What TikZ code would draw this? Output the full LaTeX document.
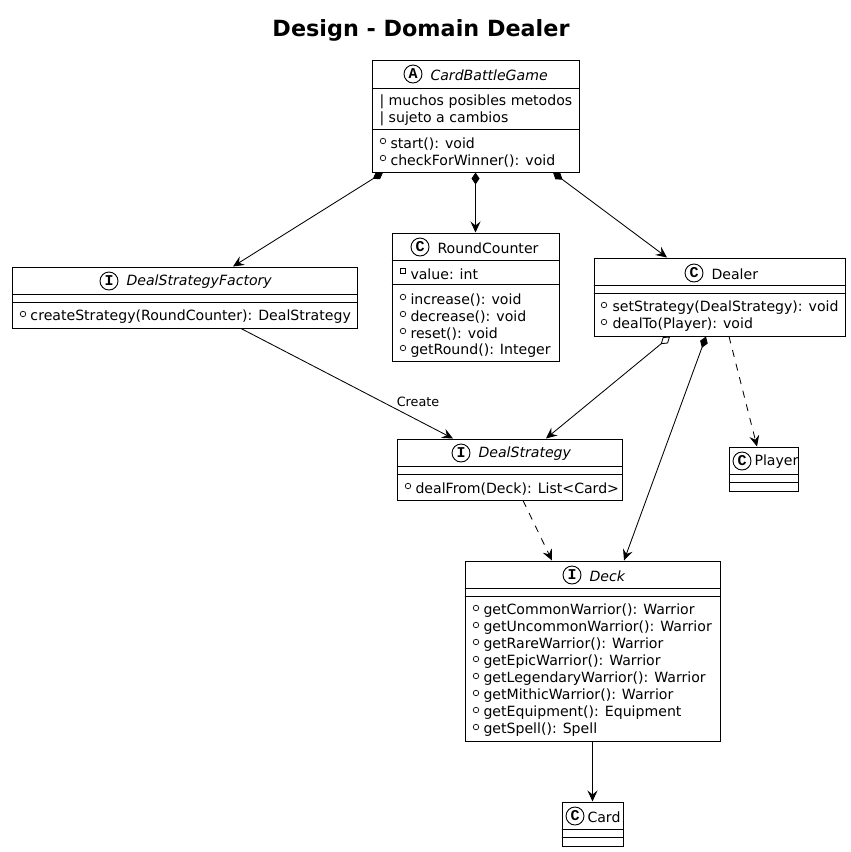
\documentclass[tikz,border=0pt]{standalone}
\usepackage{fontspec}
\setmainfont{DejaVu Sans}
\newfontfamily\badgefont{Liberation Mono}
\usetikzlibrary{arrows.meta}
\newcommand{\umlfont}{\fontsize{14.1}{17}\selectfont}

\begin{document}
\begin{tikzpicture}[x=1pt, y=-1pt, line width=1pt,
    classbox/.style={draw=black, fill=white, inner sep=0pt},
    member/.style={anchor=west, inner sep=0pt, yshift=-1pt, font=\umlfont},
    title/.style={inner sep=0pt, yshift=-1pt, font=\umlfont},
    ititle/.style={inner sep=0pt, yshift=-1pt, font=\umlfont\itshape},
    badge/.style={circle, draw=black, line width=0.9pt, minimum size=18pt, inner sep=0pt, font=\fontsize{15}{15}\badgefont\bfseries},
    pub/.style={circle, draw=black, line width=0.7pt, minimum size=5.5pt, inner sep=0pt},
    priv/.style={rectangle, draw=black, line width=0.7pt, minimum size=5.5pt, inner sep=0pt},
    link/.style={draw=black, line width=0.85pt, -{Stealth[length=11pt, width=10pt, inset=4pt]}},
    dep/.style={link, dash pattern=on 7pt off 7pt},
    comp/.style={link, {Diamond[length=12pt, width=8pt]}-{Stealth[length=11pt, width=10pt, inset=4pt]}},
    agg/.style={link, {Diamond[open, fill=white, length=12pt, width=8pt]}-{Stealth[length=11pt, width=10pt, inset=4pt]}}]
    \useasboundingbox (0,0) rectangle (851,852);

    \node[font=\fontsize{22.3}{25}\selectfont\bfseries, inner sep=0pt] (heading) at (421,30) {Design - Domain Dealer};

    % Abstract class on top
    \node[classbox, minimum width=207pt, minimum height=112pt] (game) at (475.5,116) {};
    \draw ([yshift=-29pt]game.north west) -- ([yshift=-29pt]game.north east);
    \draw ([yshift=-70pt]game.north west) -- ([yshift=-70pt]game.north east);
    \node[badge] (gamebadge) at (413,74) {A};
    \node[ititle, anchor=west] (gametitle) at (430,74) {CardBattleGame};
    \node[member] (gamenote1) at (379,101) {| muchos posibles metodos};
    \node[member] (gamenote2) at (379,118) {| sujeto a cambios};
    \node[pub] (gamepub1) at (383,141) {};
    \node[pub] (gamepub2) at (383,158) {};
    \node[member] (gamem1) at (390,143) {start(): void};
    \node[member] (gamem2) at (390,160) {checkForWinner(): void};

    % Factory
    \node[classbox, minimum width=345pt, minimum height=61pt] (factory) at (184.5,297.5) {};
    \draw ([yshift=-28pt]factory.north west) -- ([yshift=-28pt]factory.north east);
    \draw ([yshift=-36pt]factory.north west) -- ([yshift=-36pt]factory.north east);
    \node[badge] (factorybadge) at (109,281) {I};
    \node[ititle, anchor=west] (factorytitle) at (126,281) {DealStrategyFactory};
    \node[pub] (factorypub1) at (23,314) {};
    \node[member] (factorym1) at (30,316) {createStrategy(RoundCounter): DealStrategy};

    % Round counter
    \node[classbox, minimum width=167pt, minimum height=128pt] (counter) at (475.5,297) {};
    \draw ([yshift=-28pt]counter.north west) -- ([yshift=-28pt]counter.north east);
    \draw ([yshift=-52pt]counter.north west) -- ([yshift=-52pt]counter.north east);
    \node[badge] (counterbadge) at (420,247) {C};
    \node[title, anchor=west] (countertitle) at (437,247) {RoundCounter};
    \node[priv] (counterpriv1) at (403,271) {};
    \node[member] (counterv1) at (410,273) {value: int};
    \node[pub] (counterpub1) at (403,297) {};
    \node[pub] (counterpub2) at (403,314) {};
    \node[pub] (counterpub3) at (403,331) {};
    \node[pub] (counterpub4) at (403,348) {};
    \node[member] (counterm1) at (410,299) {increase(): void};
    \node[member] (counterm2) at (410,316) {decrease(): void};
    \node[member] (counterm3) at (410,333) {reset(): void};
    \node[member] (counterm4) at (410,350) {getRound(): Integer};

    % Dealer
    \node[classbox, minimum width=251pt, minimum height=78pt] (dealer) at (719.5,297) {};
    \draw ([yshift=-28pt]dealer.north west) -- ([yshift=-28pt]dealer.north east);
    \draw ([yshift=-36pt]dealer.north west) -- ([yshift=-36pt]dealer.north east);
    \node[badge] (dealerbadge) at (694,273) {C};
    \node[title, anchor=west] (dealertitle) at (711,273) {Dealer};
    \node[pub] (dealerpub1) at (604,305) {};
    \node[pub] (dealerpub2) at (604,322) {};
    \node[member] (dealerm1) at (612,307) {setStrategy(DealStrategy): void};
    \node[member] (dealerm2) at (612,324) {dealTo(Player): void};

    % Strategy
    \node[classbox, minimum width=225pt, minimum height=61pt] (strategy) at (509.5,469.5) {};
    \draw ([yshift=-28pt]strategy.north west) -- ([yshift=-28pt]strategy.north east);
    \draw ([yshift=-36pt]strategy.north west) -- ([yshift=-36pt]strategy.north east);
    \node[badge] (strategybadge) at (461,453) {I};
    \node[ititle, anchor=west] (strategytitle) at (478,453) {DealStrategy};
    \node[pub] (strategypub1) at (408,486) {};
    \node[member] (strategym1) at (415,488) {dealFrom(Deck): List<Card>};

    % Player
    \node[classbox, minimum width=69pt, minimum height=44pt] (player) at (763.5,469) {};
    \draw ([yshift=-28pt]player.north west) -- ([yshift=-28pt]player.north east);
    \draw ([yshift=-36pt]player.north west) -- ([yshift=-36pt]player.north east);
    \node[badge] (playerbadge) at (742,461) {C};
    \node[title, anchor=west] (playertitle) at (754,461) {Player};

    % Deck
    \node[classbox, minimum width=255pt, minimum height=180pt] (deck) at (592.5,651) {};
    \draw ([yshift=-28pt]deck.north west) -- ([yshift=-28pt]deck.north east);
    \draw ([yshift=-36pt]deck.north west) -- ([yshift=-36pt]deck.north east);
    \node[badge] (deckbadge) at (572,575) {I};
    \node[ititle, anchor=west] (decktitle) at (589,575) {Deck};
    \node[pub] (deckpub1) at (476,608) {};
    \node[pub] (deckpub2) at (476,625) {};
    \node[pub] (deckpub3) at (476,642) {};
    \node[pub] (deckpub4) at (476,659) {};
    \node[pub] (deckpub5) at (476,676) {};
    \node[pub] (deckpub6) at (476,693) {};
    \node[pub] (deckpub7) at (476,710) {};
    \node[pub] (deckpub8) at (476,727) {};
    \node[member] (deckm1) at (483,610) {getCommonWarrior(): Warrior};
    \node[member] (deckm2) at (483,627) {getUncommonWarrior(): Warrior};
    \node[member] (deckm3) at (483,644) {getRareWarrior(): Warrior};
    \node[member] (deckm4) at (483,661) {getEpicWarrior(): Warrior};
    \node[member] (deckm5) at (483,678) {getLegendaryWarrior(): Warrior};
    \node[member] (deckm6) at (483,695) {getMithicWarrior(): Warrior};
    \node[member] (deckm7) at (483,712) {getEquipment(): Equipment};
    \node[member] (deckm8) at (483,729) {getSpell(): Spell};

    % Card
    \node[classbox, minimum width=61pt, minimum height=44pt] (card) at (592.5,824) {};
    \draw ([yshift=-28pt]card.north west) -- ([yshift=-28pt]card.north east);
    \draw ([yshift=-36pt]card.north west) -- ([yshift=-36pt]card.north east);
    \node[badge] (cardbadge) at (575,816) {C};
    \node[title, anchor=west] (cardtitle) at (587,816) {Card};

    % Relations
    \draw[comp] ([xshift=-92.5pt]game.south) -- ([xshift=48.5pt]factory.north);
    \draw[comp] (game.south) -- (counter.north);
    \draw[comp] ([xshift=77.5pt]game.south) -- ([xshift=-52.5pt]dealer.north);
    \draw[link] ([xshift=56.5pt]factory.south) -- node[pos=0.835, yshift=19pt, inner sep=0pt, font=\fontsize{12.8}{14}\selectfont] (createlabel) {Create} ([xshift=-56.5pt]strategy.north);
    \draw[agg] ([xshift=-49.5pt]dealer.south) -- ([xshift=36.5pt]strategy.north);
    \draw[comp] ([xshift=-13.5pt]dealer.south) -- ([xshift=31.5pt]deck.north);
    \draw[dep] ([xshift=9.5pt]dealer.south) -- ([xshift=-6.5pt]player.north);
    \draw[dep] ([xshift=13.5pt]strategy.south) -- ([xshift=-40.5pt]deck.north);
    \draw[link] (deck.south) -- (card.north);
\end{tikzpicture}
\end{document}
